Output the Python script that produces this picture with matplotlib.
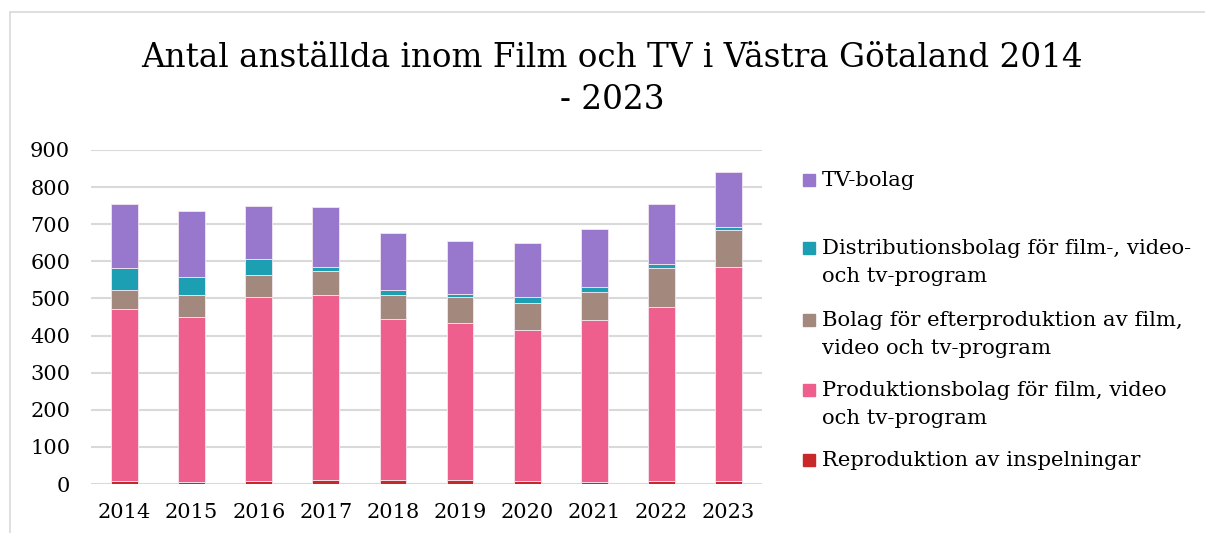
import matplotlib.pyplot as plt
from matplotlib.patches import Rectangle

years = ['2014', '2015', '2016', '2017', '2018', '2019', '2020', '2021', '2022', '2023']
reproduktion = [8, 5, 8, 12, 12, 11, 8, 5, 8, 8]
produktion = [464, 444, 496, 496, 432, 422, 407, 437, 468, 576]
efterproduktion = [50, 61, 58, 65, 64, 71, 74, 76, 105, 100]
distribution = [61, 49, 43, 13, 14, 9, 14, 14, 11, 8]
tv_bolag = [171, 176, 143, 160, 155, 143, 147, 154, 162, 150]

series = [
    ('Reproduktion av inspelningar', reproduktion, '#C9282B'),
    ('Produktionsbolag för film, video\noch tv-program', produktion, '#EE5F8D'),
    ('Bolag för efterproduktion av film,\nvideo och tv-program', efterproduktion, '#A2887D'),
    ('Distributionsbolag för film-, video-\noch tv-program', distribution, '#1C9FB3'),
    ('TV-bolag', tv_bolag, '#9878CD'),
]

plt.rcParams['font.family'] = ['DejaVu Serif']

W, H = 1205, 533
fig = plt.figure(figsize=(W / 100, H / 100), dpi=100)
ax = fig.add_axes([91 / W, 1 - 484 / H, 671 / W, 334 / H])

# light frame around the chart area
fig.add_artist(Rectangle((10 / W, -0.1), 1.2, 1 - 12 / H + 0.1, transform=fig.transFigure,
                         fill=False, edgecolor='#D9D9D9', linewidth=1.2))

x = list(range(len(years)))
bottom = [0] * len(years)
for name, vals, col in series:
    ax.bar(x, vals, 0.4, bottom=bottom, color=col, edgecolor='#F4E6F0', linewidth=0.6, zorder=3)
    bottom = [b + v for b, v in zip(bottom, vals)]

ax.set_xlim(-0.5, len(years) - 0.5)
ax.set_ylim(0, 900)
ax.set_yticks(range(0, 901, 100))
ax.set_xticks(x)
ax.set_xticklabels(years)
ax.grid(axis='y', color='#D9D9D9', linewidth=1.5, zorder=0)
for s in ax.spines.values():
    s.set_visible(False)
ax.tick_params(length=0, labelsize=15, colors='black')
ax.tick_params(axis='y', pad=15)
ax.tick_params(axis='x', pad=14)

fig.text(612 / W, 1 - 79 / H, 'Antal anställda inom Film och TV i Västra Götaland 2014\n- 2023',
         ha='center', va='center', fontsize=23.5, linespacing=1.4)

# legend, top entry first
legend_y = [180, 248, 320, 390, 460]
for (name, vals, col), yy in zip(series[::-1], legend_y):
    fig.add_artist(Rectangle((803 / W, 1 - (yy + 6) / H), 12 / W, 12 / H,
                             transform=fig.transFigure, color=col))
    for j, line in enumerate(name.split('\n')):
        fig.text(822 / W, 1 - (yy + j * 28) / H, line, va='center', fontsize=15.2)

fig.savefig('out.png', dpi=100)
